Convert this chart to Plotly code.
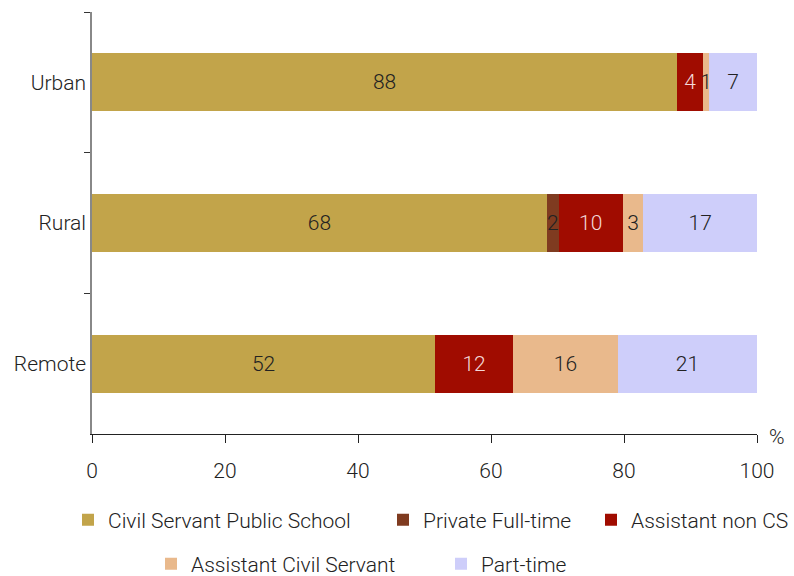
import plotly.graph_objects as go

categories = ["Urban", "Rural", "Remote"]
series_names = ["Civil Servant Public School", "Private Full-time", "Assistant non CS",
                "Assistant Civil Servant", "Part-time"]
civil_servant = [88.0, 68.4, 51.6]
private_full = [None, 1.8, None]
assistant_non_cs = [3.9, 9.6, 11.7]
assistant_cs = [0.9, 3.1, 15.8]
part_time = [7.2, 17.1, 20.9]
x_ticks = [0, 20, 40, 60, 80, 100]

series_values = [civil_servant, private_full, assistant_non_cs, assistant_cs, part_time]
colors = ["#C2A44A", "#7F3B20", "#A00C00", "#E9B98C", "#CECEFA"]
text_colors = ["#222222", "#222222", "#F3D8D8", "#222222", "#222222"]
legend_ids = ["legend", "legend2", "legend3", "legend4", "legend5"]

FONT = "Roboto, Arial, sans-serif"
FS = 21
W = 300
TXT = "#222222"

fig = go.Figure()
for name, vals, col, tcol, lg in zip(series_names, series_values, colors, text_colors, legend_ids):
    fig.add_trace(go.Bar(
        y=categories, x=vals, name=name, orientation="h",
        marker=dict(color=col, line=dict(width=0)),
        texttemplate="%{x:.0f}", textposition="inside", insidetextanchor="middle",
        textfont=dict(color=tcol, size=FS, family=FONT, weight=W),
        legend=lg,
    ))

def px_x(px):
    return (px - 92) / 665.0

def px_y(py):
    return (434 - py) / 422.0

legend_common = dict(orientation="h", bgcolor="rgba(0,0,0,0)", borderwidth=0,
                     font=dict(size=FS, family=FONT, color=TXT, weight=W),
                     xanchor="left", yanchor="middle", itemclick=False)
leg_pos = [(68, 520), (383, 520), (591, 520), (151, 564), (441, 564)]
legend_layout = {}
for lg, (lx, ly) in zip(legend_ids, leg_pos):
    legend_layout[lg] = dict(legend_common, x=px_x(lx), y=px_y(ly))

fig.update_layout(
    width=794, height=576,
    barmode="stack", bargap=0.588,
    plot_bgcolor="white", paper_bgcolor="white",
    margin=dict(l=92, r=37, t=12, b=142, autoexpand=False),
    font=dict(family=FONT, size=FS, color=TXT, weight=W),
    uniformtext=dict(minsize=FS, mode="show"),
    showlegend=True,
    **legend_layout,
)

fig.update_xaxes(
    range=[0, 100], tickvals=x_ticks, ticktext=[str(v) for v in x_ticks],
    showgrid=False, zeroline=False, showline=True, linecolor="#222222", linewidth=1,
    ticks="outside", ticklen=8, tickcolor="#222222", ticklabelstandoff=10,
    tickfont=dict(size=FS, family=FONT, color=TXT, weight=W),
)
fig.update_yaxes(
    categoryorder="array", categoryarray=categories, autorange="reversed",
    showgrid=False, zeroline=False, showline=True, linecolor="#888888", linewidth=1.5,
    ticks="outside", ticklen=6, tickcolor="#333333", tickson="boundaries",
    tickfont=dict(size=FS, family=FONT, color=TXT, weight=W),
)

fig.add_annotation(text="%", xref="paper", yref="paper", x=px_x(777), y=px_y(437),
                   xanchor="center", yanchor="middle", showarrow=False,
                   font=dict(size=FS, family=FONT, color=TXT, weight=W))

fig.write_html("out.html", config={"displayModeBar": False},
               post_script="document.body.style.margin='0';document.body.style.padding='0';")
